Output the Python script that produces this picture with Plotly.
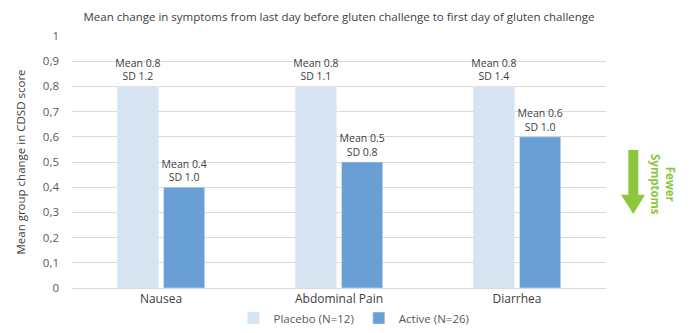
import plotly.graph_objects as go

categories = ["Nausea", "Abdominal Pain", "Diarrhea"]
placebo_mean = [0.8, 0.8, 0.8]
placebo_sd = [1.2, 1.1, 1.4]
active_mean = [0.4, 0.5, 0.6]
active_sd = [1.0, 0.8, 1.0]
tick_vals = [0, 0.1, 0.2, 0.3, 0.4, 0.5, 0.6, 0.7, 0.8, 0.9, 1]
tick_text = ["0", "0,1", "0,2", "0,3", "0,4", "0,5", "0,6", "0,7", "0,8", "0,9", "1"]

FONT = "Open Sans, Liberation Sans, sans-serif"
GREEN = "#8dc63f"

def labels(means, sds):
    return [f"Mean {m:.1f}<br>SD {s:.1f}" for m, s in zip(means, sds)]

fig = go.Figure()
fig.add_trace(go.Bar(
    x=categories, y=placebo_mean, name="Placebo (N=12)",
    marker_color="#d6e4f1",
    text=labels(placebo_mean, placebo_sd), textposition="outside", constraintext="none",
    textfont=dict(size=10.5, color="#404040", family=FONT), cliponaxis=False,
))
fig.add_trace(go.Bar(
    x=categories, y=active_mean, name="Active (N=26)",
    marker_color="#6a9fd5",
    text=labels(active_mean, active_sd), textposition="outside", constraintext="none",
    textfont=dict(size=10.5, color="#404040", family=FONT), cliponaxis=False,
))

# page body has an 8px default margin, so the figure is offset by 8px
fig.update_layout(
    width=692, height=333,
    margin=dict(l=64, r=94, t=28, b=53, autoexpand=False),
    paper_bgcolor="white", plot_bgcolor="white",
    barmode="group", bargap=0.48, bargroupgap=0.11,
    font=dict(family=FONT, size=11.5, color="#595959"),
    title=dict(text="Mean change in symptoms from last day before gluten challenge to first day of gluten challenge",
               x=0.5, xanchor="center", xref="paper", y=0.973, yanchor="middle",
               font=dict(size=11.5, color="#404040")),
    yaxis=dict(range=[0, 1], tickvals=tick_vals, ticktext=tick_text,
               showgrid=True, gridcolor="#d9d9d9", gridwidth=1,
               zeroline=False, showline=False, ticks="", automargin=False,
               ticklabelstandoff=12, tickfont=dict(size=11.5, color="#595959"),
               title=dict(text="Mean group change in CDSD score", font=dict(size=11.5, color="#404040"), standoff=14)),
    xaxis=dict(showline=True, linecolor="#d9d9d9", ticks="", automargin=False,
               tickfont=dict(size=12, color="#404040")),
    legend=dict(orientation="h", x=0.5, xanchor="center", xref="container",
                y=0.069, yanchor="middle", yref="container",
                font=dict(size=11.5, color="#595959"), itemwidth=30),
    showlegend=True,
)

# Fewer symptoms arrow (decoration)
sx0, sx1 = 1.0418, 1.0605   # shaft edges (paper)
hx0, hx1 = 1.0281, 1.0730   # head edges (paper)
ytop, yneck, ytip = 0.548, 0.37, 0.294
fig.add_shape(
    type="path", xref="paper", yref="paper",
    path=(f"M {sx0} {ytop} L {sx1} {ytop} L {sx1} {yneck} L {hx1} {yneck} "
          f"L {(sx0 + sx1) / 2} {ytip} L {hx0} {yneck} L {sx0} {yneck} Z"),
    fillcolor=GREEN, line=dict(width=0),
)
fig.add_annotation(
    xref="paper", yref="paper", x=1.108, y=0.41, xanchor="center", yanchor="middle",
    text="<b>Fewer<br>Symptoms</b>",
    showarrow=False, textangle=90, font=dict(size=11.5, color=GREEN),
)

fig.write_html("out.html")
